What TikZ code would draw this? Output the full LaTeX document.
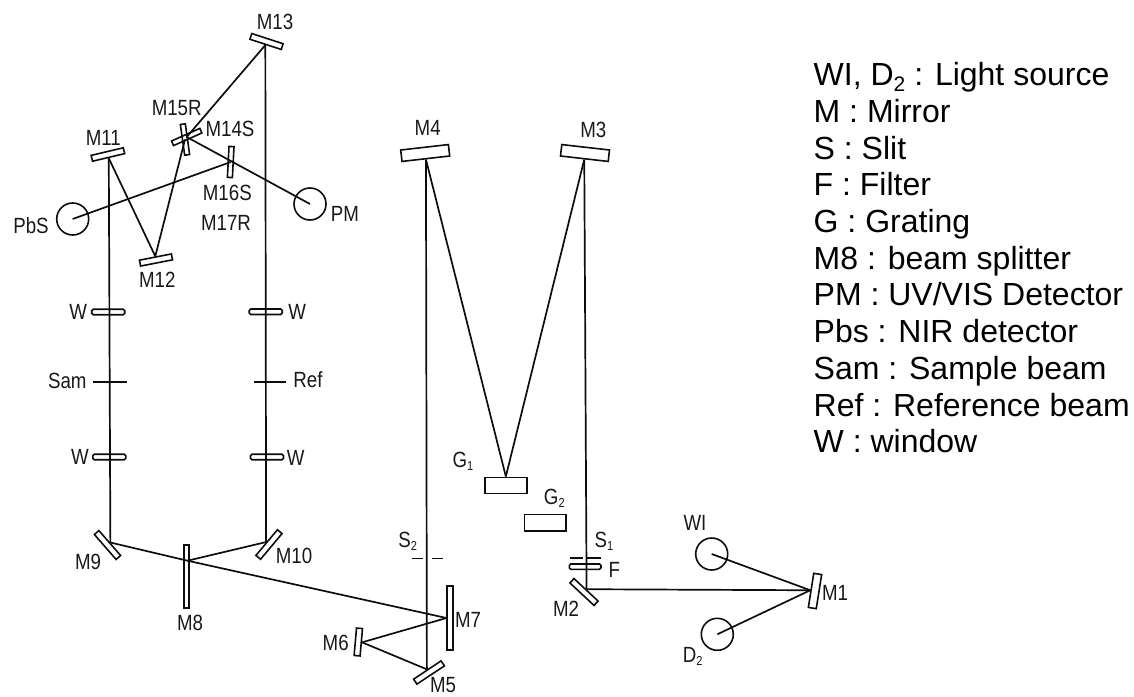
\documentclass[tikz,border=0pt]{standalone}
\usepackage{fontspec}
\setmainfont{Liberation Sans}
\newfontfamily\labfont[FakeStretch=0.85]{Liberation Sans}
\newcommand{\lsub}[1]{\raisebox{-3pt}{\fontsize{13}{13}\selectfont #1}}
\newcommand{\keysub}[1]{\raisebox{-6pt}{\fontsize{21}{21}\selectfont #1}}
\tikzset{
  optic/.style={draw=black!95, rectangle, inner sep=0pt, line width=1.6pt},
  mirror/.style={optic, minimum width=#1, minimum height=6pt},
  wind/.style={optic, rounded corners=1.5pt, minimum width=33pt, minimum height=5.5pt},
  slit/.style={rectangle, inner sep=0pt, fill=black!95, minimum height=1.6pt, minimum width=#1},
  det/.style={draw=black!95, circle, inner sep=0pt, line width=1.6pt, minimum size=32pt},
  beam/.style={draw=black!95, line width=1.7pt},
  lab/.style={inner sep=0pt, text=black!90, font=\labfont\fontsize{22}{22}\selectfont},
  key/.style={anchor=base west, inner sep=0pt, text=black, font=\fontsize{32}{36}\selectfont},
}
\begin{document}
\begin{tikzpicture}[x=1pt,y=-1pt]
\useasboundingbox (0,0) rectangle (1134,696);
% mirrors
\node[mirror=33] (M13) at (266.5,41.5) [rotate=-18] {};
\node[mirror=31,minimum height=5pt] (M14S) at (186.7,137) [rotate=24] {};
\node[mirror=31,minimum height=5pt] (M15R) at (185,139.5) [rotate=-82] {};
\node[mirror=33] (M11) at (107.9,154.5) [rotate=13.3] {};
\node[mirror=32.5] (M12) at (156,260) [rotate=11] {};
\node[mirror=31,minimum height=5pt] (M16S) at (230.7,162) [rotate=87] {};
\node[mirror=33] (M9) at (107.5,545) [rotate=-49] {};
\node[mirror=33.5] (M10) at (269,544.5) [rotate=50] {};
\node[optic,minimum width=5pt,minimum height=63pt] (M8) at (186.7,576.7) {};
\node[optic,minimum width=5.5pt,minimum height=64pt] (M7) at (450,618) {};
\node[mirror=27.5] (M6) at (358.3,642) [rotate=85] {};
\node[mirror=33] (M5) at (429,672.5) [rotate=33.6] {};
\node[mirror=48,minimum height=11.5pt] (M4) at (425.2,153) [rotate=6.5] {};
\node[mirror=48,minimum height=11.5pt] (M3) at (585,153) [rotate=-6.5] {};
\node[mirror=33] (M2) at (584,592) [rotate=-43] {};
\node[mirror=34.5,minimum height=8pt] (M1) at (815,591) [rotate=81] {};
% gratings, filter
\node[optic,minimum width=41.7pt,minimum height=16pt] (G1) at (505.85,485.3) {};
\node[optic,minimum width=41.7pt,minimum height=16.7pt] (G2) at (545.15,522.65) {};
\node[optic,rounded corners=1.5pt,minimum width=31.7pt,minimum height=5.3pt] (Fil) at (585.15,566.65) {};
% windows
\node[wind] (W1) at (108.2,312) {};
\node[wind] (W2) at (265.7,311.7) {};
\node[wind] (W3) at (109.3,457) {};
\node[wind] (W4) at (267,457) {};
% slits and cells
\node[slit=34] (SamT) at (110,381.7) {};
\node[slit=32] (RefT) at (270,381.7) {};
\node[slit=11.6] (S2a) at (417.5,558.3) {};
\node[slit=11] (S2b) at (437.2,558.3) {};
\node[slit=13.3] (S1a) at (576.6,558) {};
\node[slit=13.4] (S1b) at (594,558) {};
% detectors and sources
\node[det] (PbSd) at (72.7,219) {};
\node[det] (PMd) at (310,204) {};
\node[det] (WId) at (711.7,554) {};
\node[det] (D2d) at (717.3,634.3) {};
\coordinate (hM8) at (187.5,560.7);
% beams
\draw[beam] (M13.south) -- (M10.north);
\draw[beam] (M13.south) -- (M14S.center);
\draw[beam] (M14S.center) -- (PMd.center);
\draw[beam] (M12.north) -- (M15R.center);
\draw[beam] (M11.south) -- (M12.north);
\draw[beam] (M11.south) -- (M9.north);
\draw[beam] (PbSd.center) -- (M16S.center);
\draw[beam] (M9.north) -- (hM8) -- (M7.west);
\draw[beam] (M10.north) -- (hM8);
\draw[beam] (M7.west) -- (M6.south);
\draw[beam] (M6.south) -- (M5.north);
\draw[beam] (M5.north) -- (M4.south);
\draw[beam] (M4.south) -- (G1.north);
\draw[beam] (G1.north) -- (M3.south);
\draw[beam] (M3.south) -- (M2.north);
\draw[beam] (M2.north) -- (M1.north);
\draw[beam] (M1.north) -- (WId.center);
\draw[beam] (M1.north) -- (D2d.center);
% labels
\node[lab] (tM13) at (275,22) {M13};
\node[lab] (tM15R) at (176.7,108.3) {M15R};
\node[lab] (tM14S) at (230,129) {M14S};
\node[lab] (tM11) at (103.3,137.7) {M11};
\node[lab] (tM16S) at (227.3,193.3) {M16S};
\node[lab] (tM17R) at (226,222.7) {M17R};
\node[lab] (tPbS) at (31,226) {PbS};
\node[lab] (tPM) at (345,214) {PM};
\node[lab] (tM12) at (157.3,280) {M12};
\node[lab] (tW1) at (78.3,312.3) {W};
\node[lab] (tW2) at (297.3,312.3) {W};
\node[lab] (tSam) at (67.3,380.7) {Sam};
\node[lab] (tRef) at (308,380) {Ref};
\node[lab] (tW3) at (80,457) {W};
\node[lab] (tW4) at (295.7,457.5) {W};
\node[lab] (tM9) at (88,561.7) {M9};
\node[lab] (tM10) at (294,556) {M10};
\node[lab] (tM8) at (190,622.7) {M8};
\node[lab] (tS2) at (407.7,541) {S\lsub{2}};
\node[lab] (tM7) at (468,620) {M7};
\node[lab] (tM6) at (335.7,643) {M6};
\node[lab] (tM5) at (443,685) {M5};
\node[lab] (tM4) at (427.7,127.7) {M4};
\node[lab] (tM3) at (593.3,130) {M3};
\node[lab] (tG1) at (463,461) {G\lsub{1}};
\node[lab] (tG2) at (554.3,498.3) {G\lsub{2}};
\node[lab] (tS1) at (604,541) {S\lsub{1}};
\node[lab] (tF) at (614.3,570) {F};
\node[lab] (tM2) at (566,609) {M2};
\node[lab] (tWI) at (695,522.7) {WI};
\node[lab] (tD2) at (692.7,656) {D\lsub{2}};
\node[lab] (tM1) at (835,593.3) {M1};
% key
\node[key] (k1) at (813.5,85.7) {WI, D\keysub{2} : Light source};
\node[key] (k2) at (813.5,122.4) {M : Mirror};
\node[key] (k3) at (813.5,159.1) {S : Slit};
\node[key] (k4) at (813.5,195.8) {F : Filter};
\node[key] (k5) at (813.5,232.5) {G : Grating};
\node[key] (k6) at (813.5,269.2) {M8 : beam splitter};
\node[key] (k7) at (813.5,305.9) {PM : UV/VIS Detector};
\node[key] (k8) at (813.5,342.6) {Pbs : NIR detector};
\node[key] (k9) at (813.5,379.3) {Sam : Sample beam};
\node[key] (k10) at (813.5,416) {Ref : Reference beam};
\node[key] (k11) at (813.5,452.7) {W : window};
\end{tikzpicture}
\end{document}
